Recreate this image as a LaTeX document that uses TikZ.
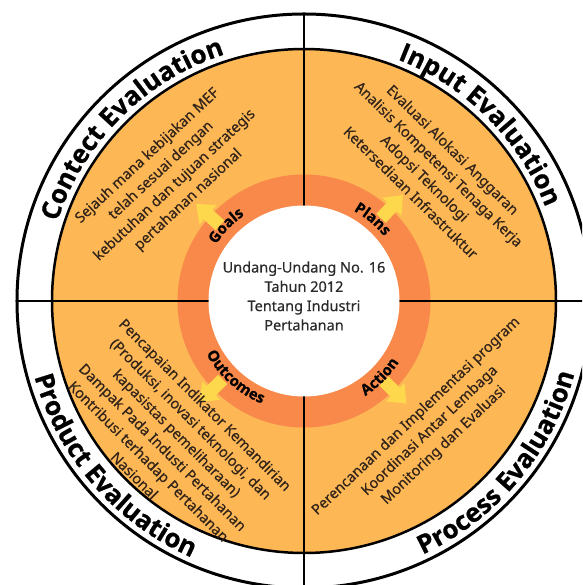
\documentclass[tikz,border=0pt]{standalone}
\usepackage{fontspec}
\setmainfont{Noto Sans}
\newfontfamily\heavyfam{Open Sans}[BoldFeatures={FakeBold=0.7}]
\newfontfamily\bodyfam{Noto Sans}[FakeBold=0.35]
\usetikzlibrary{decorations.text}

\definecolor{diskorange}{HTML}{FDB754}
\definecolor{ringorange}{HTML}{F8894A}
\definecolor{arrowyellow}{HTML}{FDD74C}
\definecolor{inkbrown}{HTML}{33241A}
\definecolor{inkgrey}{HTML}{2A2A2A}

\newcommand{\titlefont}{\heavyfam\bfseries\fontsize{26}{30}\selectfont}
\newcommand{\ringfont}{\heavyfam\bfseries\fontsize{15}{18}\selectfont}

\begin{document}
\begin{tikzpicture}[x=1pt,y=1pt,
  quadtext/.style={align=center, text=inkbrown, inner sep=0pt,
    font=\bodyfam\fontsize{14.5}{20}\selectfont},
  centertext/.style={align=center, text=inkgrey, inner sep=0pt,
    font=\bodyfam\fontsize{14.5}{19.3}\selectfont},
  divider/.style={line width=2pt, black},
  petal/.style={fill=arrowyellow}
]
\useasboundingbox (-304,-284) rectangle (278,301);
\clip (-304,-284) rectangle (278,301);

% outer white band and orange disk
\fill[white] (0,0) circle (287pt);
\fill[diskorange] (0,0) circle (252pt);

% inner ring
\fill[ringorange] (0,0) circle (126.5pt);

% yellow arrows pointing outwards from the ring
\foreach \ang in {138,47,224,315}{
  \begin{scope}[rotate=\ang]
    \fill[petal] (113pt,-6.5pt) -- (129pt,-6.5pt) -- (129pt,-13pt) -- (145pt,0pt)
      -- (129pt,13pt) -- (129pt,6.5pt) -- (113pt,6.5pt) -- cycle;
  \end{scope}
}

% quadrant dividers
\draw[divider] (0,-287) -- (0,287);
\draw[divider] (-287,0) -- (287,0);

% white core
\fill[white] (0,0) circle (95.5pt);

% outlines
\draw[line width=3pt] (0,0) circle (287pt);
\draw[line width=2.5pt] (0,0) circle (252pt);

% titles along the outer band
\path[decorate, decoration={text along path, text align=center,
  text={|\titlefont|Contect Evaluation}}]
  (175:259pt) arc[start angle=175, end angle=95, radius=259pt];
\path[decorate, decoration={text along path, text align=center,
  text={|\titlefont|Input Evaluation}}]
  (85:259pt) arc[start angle=85, end angle=5, radius=259pt];
\path[decorate, decoration={text along path, text align=center,
  text={|\titlefont|Product Evaluation}}]
  (181:280pt) arc[start angle=181, end angle=261, radius=280pt];
\path[decorate, decoration={text along path, text align=center,
  text={|\titlefont|Process Evaluation}}]
  (280:280pt) arc[start angle=280, end angle=360, radius=280pt];

% labels on the ring
\path[decorate, decoration={text along path, text align=center,
  text={|\ringfont|Goals}}]
  (166:104.5pt) arc[start angle=166, end angle=106, radius=104.5pt];
\path[decorate, decoration={text along path, text align=center,
  text={|\ringfont|Plans}}]
  (80:103pt) arc[start angle=80, end angle=20, radius=103pt];
\path[decorate, decoration={text along path, text align=center,
  text={|\ringfont|Outcomes}}]
  (193:111pt) arc[start angle=193, end angle=263, radius=111pt];
\path[decorate, decoration={text along path, text align=center,
  text={|\ringfont|Action}}]
  (285:113pt) arc[start angle=285, end angle=345, radius=113pt];

% centre
\node[centertext] (law) at (0,5) {Undang-Undang No. 16\\Tahun 2012\\Tentang Industri\\Pertahanan};

% quadrant contents
\node[quadtext, rotate=43] (context) at (-136,123)
  {Sejauh mana kebijakan MEF\\telah sesuai dengan\\kebutuhan dan tujuan strategis\\pertahanan nasional};
\node[quadtext, rotate=-44.5] (input) at (128,130)
  {Evaluasi Alokasi Anggaran\\Analisis Kompetensi Tenaga Kerja\\Adopsi Teknologi\\Ketersediaan Infrastruktur};
\node[quadtext, rotate=-45] (product) at (-134,-139)
  {Pencapaian Indikator Kemandirian\\(Produksi, inovasi teknologi, dan\\kapasistas pemeliharaan)\\Dampak Pada Industi Pertahanan\\Kontribusi terhadap Pertahanan\\Nasional};
\node[quadtext, rotate=43.5] (process) at (126,-130)
  {Perencanaan dan Implementasi program\\Koordinasi Antar Lembaga\\Monitoring dan Evaluasi};
\end{tikzpicture}
\end{document}
